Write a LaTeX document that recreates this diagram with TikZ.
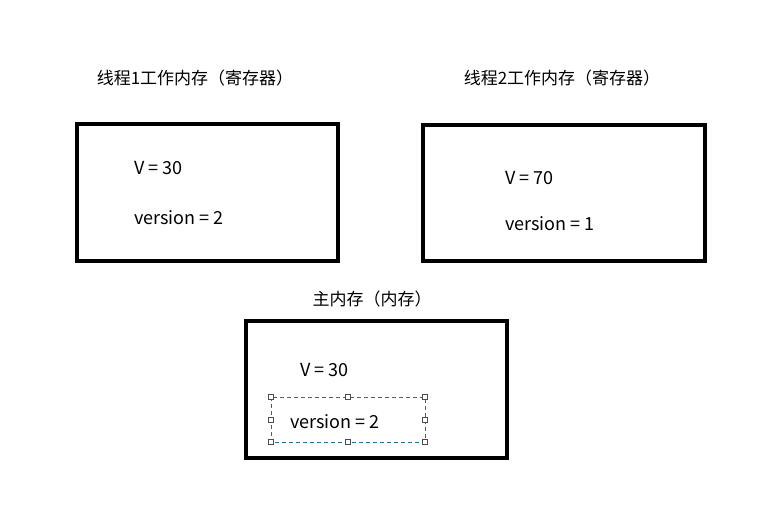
\documentclass[tikz,border=0pt]{standalone}
\usepackage{fontspec}
\setmainfont{Noto Sans CJK SC}
\definecolor{selc}{RGB}{30,110,150}
\begin{document}
\begin{tikzpicture}[x=1pt,y=-1pt,
  box/.style={draw,line width=4.5pt,inner sep=0pt},
  lbl/.style={anchor=west,font=\fontsize{18}{20}\selectfont,inner sep=0pt},
  ttl/.style={font=\fontsize{17}{20}\selectfont,inner sep=0pt},
  sel/.style={draw=selc,dash pattern=on 4pt off 3pt,line width=1pt},
  hnd/.style={draw=gray!60!black,fill=white,minimum size=5pt,inner sep=0pt,line width=0.7pt}]
\useasboundingbox (0,0) rectangle (766,514);
\node[box,minimum width=261pt,minimum height=137pt] (b1) at (207.5,192.5) {};
\node[box,minimum width=282pt,minimum height=136pt] (b2) at (564,193) {};
\node[box,minimum width=261pt,minimum height=137pt] (b3) at (376.5,389.5) {};
\node[ttl] (t1) at (195,78) {线程1工作内存（寄存器）};
\node[ttl] (t2) at (562,78) {线程2工作内存（寄存器）};
\node[ttl] (t3) at (372,299) {主内存（内存）};
\node[lbl] (a1) at (134,168) {V = 30};
\node[lbl] (a2) at (134,218) {version = 2};
\node[lbl] (c1) at (505,178) {V = 70};
\node[lbl] (c2) at (505,224) {version = 1};
\node[lbl] (d1) at (300,370) {V = 30};
\draw[sel] (271,397) rectangle (425,442);
\node[lbl] (d2) at (290,422) {version = 2};
\foreach \x in {271,348,425}{\node[hnd] at (\x,397) {}; \node[hnd] at (\x,442) {};}
\node[hnd] at (271,419.5) {}; \node[hnd] at (425,419.5) {};
\end{tikzpicture}
\end{document}
